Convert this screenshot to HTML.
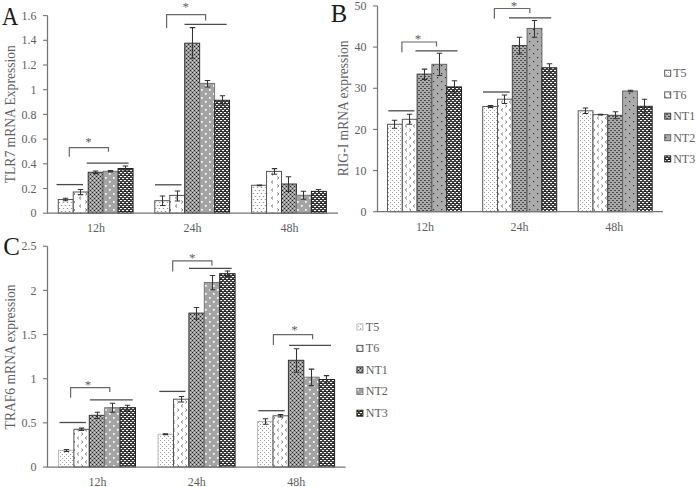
<!DOCTYPE html>
<html><head><meta charset="utf-8"><title>Figure</title>
<style>
html,body{margin:0;padding:0;background:#fff;}
body{width:697px;height:487px;overflow:hidden;}
svg{display:block;font-family:"Liberation Serif",serif;}
</style></head><body>
<svg width="697" height="487" viewBox="0 0 697 487">
<defs>
<pattern id="t5a" width="4" height="6" patternUnits="userSpaceOnUse"><rect width="4" height="6" fill="#fff"/><rect x="0.8" y="1" width="1.4" height="0.9" fill="#8c8c8c"/><rect x="2.8" y="4" width="1.4" height="0.9" fill="#8c8c8c"/><rect x="-1.2" y="4" width="1.4" height="0.9" fill="#8c8c8c"/></pattern>
<pattern id="t5aL" width="4" height="6" patternUnits="userSpaceOnUse"><rect width="4" height="6" fill="#fff"/><rect x="0.8" y="1" width="1.4" height="0.9" fill="#8c8c8c"/><rect x="2.8" y="4" width="1.4" height="0.9" fill="#8c8c8c"/><rect x="-1.2" y="4" width="1.4" height="0.9" fill="#8c8c8c"/></pattern>
<pattern id="t5b" width="4" height="4" patternUnits="userSpaceOnUse"><rect width="4" height="4" fill="#fff"/><rect x="0" y="0" width="1" height="1" fill="#a0a0a0"/><rect x="2" y="2" width="1" height="1" fill="#a0a0a0"/></pattern>
<pattern id="t5bL" width="4" height="4" patternUnits="userSpaceOnUse"><rect width="4" height="4" fill="#fff"/><rect x="0" y="0" width="1" height="1" fill="#a0a0a0"/><rect x="2" y="2" width="1" height="1" fill="#a0a0a0"/></pattern>
<pattern id="t6" width="12" height="8" patternUnits="userSpaceOnUse"><rect width="12" height="8" fill="#fff"/><path d="M1.3 0.6L2.9 2L1.3 3.4" stroke="#505050" stroke-width="0.85" fill="none"/><path d="M9 4.6L7.4 6L9 7.4" stroke="#505050" stroke-width="0.85" fill="none"/></pattern>
<pattern id="t6L" width="12" height="8" patternUnits="userSpaceOnUse"><rect width="12" height="8" fill="#fff"/><path d="M1.3 0.6L2.9 2L1.3 3.4" stroke="#505050" stroke-width="0.85" fill="none"/><path d="M9 4.6L7.4 6L9 7.4" stroke="#505050" stroke-width="0.85" fill="none"/></pattern>
<pattern id="t6c" width="8" height="8" patternUnits="userSpaceOnUse"><rect width="8" height="8" fill="#fff"/><path d="M1.3 0.6L2.9 2L1.3 3.4" stroke="#5a5a5a" stroke-width="0.85" fill="none"/><path d="M6.9 4.6L5.3 6L6.9 7.4" stroke="#5a5a5a" stroke-width="0.85" fill="none"/></pattern>
<pattern id="t6cL" width="8" height="8" patternUnits="userSpaceOnUse"><rect width="8" height="8" fill="#fff"/><path d="M1.3 0.6L2.9 2L1.3 3.4" stroke="#5a5a5a" stroke-width="0.85" fill="none"/><path d="M6.9 4.6L5.3 6L6.9 7.4" stroke="#5a5a5a" stroke-width="0.85" fill="none"/></pattern>
<pattern id="nt1a" width="4" height="4" patternUnits="userSpaceOnUse"><rect width="4" height="4" fill="#a2a2a2"/><rect x="0" y="0" width="1" height="1" fill="#1e1e1e"/><rect x="2" y="2" width="1" height="1" fill="#1e1e1e"/><rect x="2" y="0" width="1" height="1" fill="#cfcfcf"/><rect x="0" y="2" width="1" height="1" fill="#cfcfcf"/><rect x="1" y="1" width="1" height="1" fill="#858585"/><rect x="3" y="1" width="1" height="1" fill="#858585"/><rect x="1" y="3" width="1" height="1" fill="#858585"/><rect x="3" y="3" width="1" height="1" fill="#858585"/></pattern>
<pattern id="nt1aL" width="4" height="4" patternUnits="userSpaceOnUse"><rect width="4" height="4" fill="#a2a2a2"/><rect x="0" y="0" width="1" height="1" fill="#1e1e1e"/><rect x="2" y="2" width="1" height="1" fill="#1e1e1e"/><rect x="2" y="0" width="1" height="1" fill="#cfcfcf"/><rect x="0" y="2" width="1" height="1" fill="#cfcfcf"/><rect x="1" y="1" width="1" height="1" fill="#858585"/><rect x="3" y="1" width="1" height="1" fill="#858585"/><rect x="1" y="3" width="1" height="1" fill="#858585"/><rect x="3" y="3" width="1" height="1" fill="#858585"/></pattern>
<pattern id="nt1b" width="4" height="4" patternUnits="userSpaceOnUse"><rect width="4" height="4" fill="#aaaaaa"/><rect x="0" y="0" width="2" height="1" fill="#4a4a4a"/><rect x="2" y="2" width="2" height="1" fill="#4a4a4a"/></pattern>
<pattern id="nt1bL" width="4" height="4" patternUnits="userSpaceOnUse"><rect width="4" height="4" fill="#aaaaaa"/><rect x="0" y="0" width="2" height="1" fill="#4a4a4a"/><rect x="2" y="2" width="2" height="1" fill="#4a4a4a"/></pattern>
<pattern id="nt2a" width="8" height="8" patternUnits="userSpaceOnUse"><rect width="8" height="8" fill="#a4a4a4"/><rect x="1" y="1" width="1.7" height="1.7" fill="#fff"/><rect x="5" y="5" width="1.7" height="1.7" fill="#fff"/></pattern>
<pattern id="nt2aL" width="8" height="8" patternUnits="userSpaceOnUse"><rect width="8" height="8" fill="#a4a4a4"/><rect x="1" y="1" width="1.7" height="1.7" fill="#fff"/><rect x="5" y="5" width="1.7" height="1.7" fill="#fff"/></pattern>
<pattern id="nt2b" width="8" height="8" patternUnits="userSpaceOnUse"><rect width="8" height="8" fill="#ababab"/><rect x="1" y="1" width="1.2" height="1.2" fill="#333"/><rect x="5" y="5" width="1.2" height="1.2" fill="#333"/></pattern>
<pattern id="nt2bL" width="8" height="8" patternUnits="userSpaceOnUse"><rect width="8" height="8" fill="#ababab"/><rect x="1" y="1" width="1.2" height="1.2" fill="#333"/><rect x="5" y="5" width="1.2" height="1.2" fill="#333"/></pattern>
<pattern id="nt3" width="4" height="4" patternUnits="userSpaceOnUse"><rect width="4" height="4" fill="#1c1c1c"/><ellipse cx="1" cy="0.5" rx="1.3" ry="0.82" fill="#fff"/><ellipse cx="3" cy="2.5" rx="1.3" ry="0.82" fill="#fff"/><ellipse cx="-1" cy="2.5" rx="1.3" ry="0.82" fill="#fff"/><ellipse cx="5" cy="0.5" rx="1.3" ry="0.82" fill="#fff"/></pattern>
<pattern id="nt3L" width="4" height="4" patternUnits="userSpaceOnUse"><rect width="4" height="4" fill="#1c1c1c"/><ellipse cx="1" cy="0.5" rx="1.3" ry="0.82" fill="#fff"/><ellipse cx="3" cy="2.5" rx="1.3" ry="0.82" fill="#fff"/><ellipse cx="-1" cy="2.5" rx="1.3" ry="0.82" fill="#fff"/><ellipse cx="5" cy="0.5" rx="1.3" ry="0.82" fill="#fff"/></pattern>
</defs>
<rect width="697" height="487" fill="#fff"/>
<text transform="translate(1.9 24.7) scale(0.98 1.08)" font-size="23" fill="#1a1a1a">A</text>
<text transform="translate(15 114.2) rotate(-90)" font-size="13.6" text-anchor="middle" fill="#5e5e5e">TLR7 mRNA Expression</text>
<rect x="58.30" y="199.50" width="14.95" height="13.70" fill="url(#t5a)" stroke="#555" stroke-width="1"/>
<rect x="73.25" y="192.00" width="14.95" height="21.20" fill="url(#t6)" stroke="#555" stroke-width="1"/>
<rect x="88.20" y="172.30" width="14.95" height="40.90" fill="url(#nt1a)" stroke="#333" stroke-width="1"/>
<rect x="103.15" y="171.30" width="14.95" height="41.90" fill="url(#nt2a)" stroke="#777" stroke-width="1"/>
<rect x="118.10" y="168.50" width="14.95" height="44.70" fill="url(#nt3)" stroke="#222" stroke-width="1"/>
<path d="M65.50 198.30V200.70M62.80 198.30H68.20M62.80 200.70H68.20" stroke="#333" stroke-width="1.05" fill="none"/>
<path d="M80.50 189.40V194.60M77.80 189.40H83.20M77.80 194.60H83.20" stroke="#333" stroke-width="1.05" fill="none"/>
<path d="M95.50 171.00V173.60M92.80 171.00H98.20M92.80 173.60H98.20" stroke="#333" stroke-width="1.05" fill="none"/>
<path d="M110.50 170.60V172.00M107.80 170.60H113.20M107.80 172.00H113.20" stroke="#333" stroke-width="1.05" fill="none"/>
<path d="M125.50 166.00V171.00M122.80 166.00H128.20M122.80 171.00H128.20" stroke="#333" stroke-width="1.05" fill="none"/>
<rect x="154.80" y="200.70" width="14.95" height="12.50" fill="url(#t5a)" stroke="#555" stroke-width="1"/>
<rect x="169.75" y="195.40" width="14.95" height="17.80" fill="url(#t6)" stroke="#555" stroke-width="1"/>
<rect x="184.70" y="43.20" width="14.95" height="170.00" fill="url(#nt1a)" stroke="#333" stroke-width="1"/>
<rect x="199.65" y="83.40" width="14.95" height="129.80" fill="url(#nt2a)" stroke="#777" stroke-width="1"/>
<rect x="214.60" y="100.30" width="14.95" height="112.90" fill="url(#nt3)" stroke="#222" stroke-width="1"/>
<path d="M162.50 195.90V205.40M159.80 195.90H165.20M159.80 205.40H165.20" stroke="#333" stroke-width="1.05" fill="none"/>
<path d="M177.50 190.90V200.90M174.80 190.90H180.20M174.80 200.90H180.20" stroke="#333" stroke-width="1.05" fill="none"/>
<path d="M192.50 27.60V58.30M189.80 27.60H195.20M189.80 58.30H195.20" stroke="#333" stroke-width="1.05" fill="none"/>
<path d="M207.50 80.40V87.00M204.80 80.40H210.20M204.80 87.00H210.20" stroke="#333" stroke-width="1.05" fill="none"/>
<path d="M222.50 95.70V105.00M219.80 95.70H225.20M219.80 105.00H225.20" stroke="#333" stroke-width="1.05" fill="none"/>
<rect x="251.60" y="185.30" width="14.95" height="27.90" fill="url(#t5a)" stroke="#555" stroke-width="1"/>
<rect x="266.55" y="171.40" width="14.95" height="41.80" fill="url(#t6)" stroke="#555" stroke-width="1"/>
<rect x="281.50" y="184.00" width="14.95" height="29.20" fill="url(#nt1a)" stroke="#333" stroke-width="1"/>
<rect x="296.45" y="195.30" width="14.95" height="17.90" fill="url(#nt2a)" stroke="#777" stroke-width="1"/>
<rect x="311.40" y="191.40" width="14.95" height="21.80" fill="url(#nt3)" stroke="#222" stroke-width="1"/>
<path d="M259.50 184.90V185.70M256.80 184.90H262.20M256.80 185.70H262.20" stroke="#333" stroke-width="1.05" fill="none"/>
<path d="M274.50 168.60V174.20M271.80 168.60H277.20M271.80 174.20H277.20" stroke="#333" stroke-width="1.05" fill="none"/>
<path d="M288.50 176.70V191.40M285.80 176.70H291.20M285.80 191.40H291.20" stroke="#333" stroke-width="1.05" fill="none"/>
<path d="M303.50 191.20V199.30M300.80 191.20H306.20M300.80 199.30H306.20" stroke="#333" stroke-width="1.05" fill="none"/>
<path d="M318.50 189.50V193.40M315.80 189.50H321.20M315.80 193.40H321.20" stroke="#333" stroke-width="1.05" fill="none"/>
<path d="M47.5 15.6V213.2H338" stroke="#757575" stroke-width="1.25" fill="none"/>
<path d="M43.0 213.20H47.5" stroke="#757575" stroke-width="1.1"/>
<text x="36.5" y="217.30" font-size="12" text-anchor="end" fill="#5e5e5e">0</text>
<path d="M43.0 188.50H47.5" stroke="#757575" stroke-width="1.1"/>
<text x="36.5" y="192.60" font-size="12" text-anchor="end" fill="#5e5e5e">0.2</text>
<path d="M43.0 163.80H47.5" stroke="#757575" stroke-width="1.1"/>
<text x="36.5" y="167.90" font-size="12" text-anchor="end" fill="#5e5e5e">0.4</text>
<path d="M43.0 139.10H47.5" stroke="#757575" stroke-width="1.1"/>
<text x="36.5" y="143.20" font-size="12" text-anchor="end" fill="#5e5e5e">0.6</text>
<path d="M43.0 114.40H47.5" stroke="#757575" stroke-width="1.1"/>
<text x="36.5" y="118.50" font-size="12" text-anchor="end" fill="#5e5e5e">0.8</text>
<path d="M43.0 89.70H47.5" stroke="#757575" stroke-width="1.1"/>
<text x="36.5" y="93.80" font-size="12" text-anchor="end" fill="#5e5e5e">1</text>
<path d="M43.0 65.00H47.5" stroke="#757575" stroke-width="1.1"/>
<text x="36.5" y="69.10" font-size="12" text-anchor="end" fill="#5e5e5e">1.2</text>
<path d="M43.0 40.30H47.5" stroke="#757575" stroke-width="1.1"/>
<text x="36.5" y="44.40" font-size="12" text-anchor="end" fill="#5e5e5e">1.4</text>
<path d="M43.0 15.60H47.5" stroke="#757575" stroke-width="1.1"/>
<text x="36.5" y="19.70" font-size="12" text-anchor="end" fill="#5e5e5e">1.6</text>
<text x="96" y="232" font-size="12" text-anchor="middle" fill="#5e5e5e">12h</text>
<text x="192.5" y="232" font-size="12" text-anchor="middle" fill="#5e5e5e">24h</text>
<text x="289.5" y="232" font-size="12" text-anchor="middle" fill="#5e5e5e">48h</text>
<path d="M56.5 184.6H83" stroke="#4a4a4a" stroke-width="1.3"/>
<path d="M86.7 163.2H128.6" stroke="#4a4a4a" stroke-width="1.3"/>
<path d="M69.3 156.7V147.6H108.5V151.7" stroke="#686868" stroke-width="1.2" fill="none"/>
<text x="88.4" y="145.6" font-size="13" text-anchor="middle" fill="#5e5e5e">*</text>
<path d="M155 184.8H181.5" stroke="#4a4a4a" stroke-width="1.3"/>
<path d="M184.5 24.4H226.7" stroke="#4a4a4a" stroke-width="1.3"/>
<path d="M166.6 28.1V14.6H205.6V20.6" stroke="#686868" stroke-width="1.2" fill="none"/>
<text x="185.7" y="11.1" font-size="13" text-anchor="middle" fill="#5e5e5e">*</text>
<text x="330.8" y="22.1" font-size="24.7" fill="#1a1a1a">B</text>
<text transform="translate(347.5 108.3) rotate(-90)" font-size="13.6" text-anchor="middle" fill="#5e5e5e">RIG-I mRNA expression</text>
<rect x="387.50" y="124.30" width="14.80" height="87.40" fill="url(#t5b)" stroke="#5a5a5a" stroke-width="1"/>
<rect x="402.30" y="119.30" width="14.80" height="92.40" fill="url(#t6c)" stroke="#5a5a5a" stroke-width="1"/>
<rect x="417.10" y="74.10" width="14.80" height="137.60" fill="url(#nt1b)" stroke="#444" stroke-width="1"/>
<rect x="431.90" y="64.30" width="14.80" height="147.40" fill="url(#nt2b)" stroke="#666" stroke-width="1"/>
<rect x="446.70" y="86.90" width="14.80" height="124.80" fill="url(#nt3)" stroke="#222" stroke-width="1"/>
<path d="M394.50 120.30V128.30M391.80 120.30H397.20M391.80 128.30H397.20" stroke="#333" stroke-width="1.05" fill="none"/>
<path d="M409.50 114.30V124.30M406.80 114.30H412.20M406.80 124.30H412.20" stroke="#333" stroke-width="1.05" fill="none"/>
<path d="M424.50 69.10V79.40M421.80 69.10H427.20M421.80 79.40H427.20" stroke="#333" stroke-width="1.05" fill="none"/>
<path d="M439.50 53.30V75.40M436.80 53.30H442.20M436.80 75.40H442.20" stroke="#333" stroke-width="1.05" fill="none"/>
<path d="M454.50 80.70V93.00M451.80 80.70H457.20M451.80 93.00H457.20" stroke="#333" stroke-width="1.05" fill="none"/>
<rect x="482.70" y="106.50" width="14.80" height="105.20" fill="url(#t5b)" stroke="#5a5a5a" stroke-width="1"/>
<rect x="497.50" y="99.20" width="14.80" height="112.50" fill="url(#t6c)" stroke="#5a5a5a" stroke-width="1"/>
<rect x="512.30" y="45.50" width="14.80" height="166.20" fill="url(#nt1b)" stroke="#444" stroke-width="1"/>
<rect x="527.10" y="28.40" width="14.80" height="183.30" fill="url(#nt2b)" stroke="#666" stroke-width="1"/>
<rect x="541.90" y="67.80" width="14.80" height="143.90" fill="url(#nt3)" stroke="#222" stroke-width="1"/>
<path d="M490.50 105.60V107.40M487.80 105.60H493.20M487.80 107.40H493.20" stroke="#333" stroke-width="1.05" fill="none"/>
<path d="M504.50 95.00V103.50M501.80 95.00H507.20M501.80 103.50H507.20" stroke="#333" stroke-width="1.05" fill="none"/>
<path d="M519.50 37.20V54.00M516.80 37.20H522.20M516.80 54.00H522.20" stroke="#333" stroke-width="1.05" fill="none"/>
<path d="M534.50 20.40V37.20M531.80 20.40H537.20M531.80 37.20H537.20" stroke="#333" stroke-width="1.05" fill="none"/>
<path d="M549.50 63.80V71.90M546.80 63.80H552.20M546.80 71.90H552.20" stroke="#333" stroke-width="1.05" fill="none"/>
<rect x="578.20" y="110.80" width="14.80" height="100.90" fill="url(#t5b)" stroke="#5a5a5a" stroke-width="1"/>
<rect x="593.00" y="114.60" width="14.80" height="97.10" fill="url(#t6c)" stroke="#5a5a5a" stroke-width="1"/>
<rect x="607.80" y="115.30" width="14.80" height="96.40" fill="url(#nt1b)" stroke="#444" stroke-width="1"/>
<rect x="622.60" y="91.00" width="14.80" height="120.70" fill="url(#nt2b)" stroke="#666" stroke-width="1"/>
<rect x="637.40" y="106.30" width="14.80" height="105.40" fill="url(#nt3)" stroke="#222" stroke-width="1"/>
<path d="M585.50 108.00V113.40M582.80 108.00H588.20M582.80 113.40H588.20" stroke="#333" stroke-width="1.05" fill="none"/>
<path d="M600.50 114.20V115.00M597.80 114.20H603.20M597.80 115.00H603.20" stroke="#333" stroke-width="1.05" fill="none"/>
<path d="M615.50 111.80V118.80M612.80 111.80H618.20M612.80 118.80H618.20" stroke="#333" stroke-width="1.05" fill="none"/>
<path d="M630.50 90.20V91.80M627.80 90.20H633.20M627.80 91.80H633.20" stroke="#333" stroke-width="1.05" fill="none"/>
<path d="M644.50 99.30V113.00M641.80 99.30H647.20M641.80 113.00H647.20" stroke="#333" stroke-width="1.05" fill="none"/>
<path d="M377.5 6V211.7H663" stroke="#757575" stroke-width="1.25" fill="none"/>
<path d="M373.0 211.70H377.5" stroke="#757575" stroke-width="1.1"/>
<text x="366.5" y="215.80" font-size="12" text-anchor="end" fill="#5e5e5e">0</text>
<path d="M373.0 170.55H377.5" stroke="#757575" stroke-width="1.1"/>
<text x="366.5" y="174.65" font-size="12" text-anchor="end" fill="#5e5e5e">10</text>
<path d="M373.0 129.40H377.5" stroke="#757575" stroke-width="1.1"/>
<text x="366.5" y="133.50" font-size="12" text-anchor="end" fill="#5e5e5e">20</text>
<path d="M373.0 88.25H377.5" stroke="#757575" stroke-width="1.1"/>
<text x="366.5" y="92.35" font-size="12" text-anchor="end" fill="#5e5e5e">30</text>
<path d="M373.0 47.10H377.5" stroke="#757575" stroke-width="1.1"/>
<text x="366.5" y="51.20" font-size="12" text-anchor="end" fill="#5e5e5e">40</text>
<path d="M373.0 5.95H377.5" stroke="#757575" stroke-width="1.1"/>
<text x="366.5" y="10.05" font-size="12" text-anchor="end" fill="#5e5e5e">50</text>
<text x="425" y="230.5" font-size="12" text-anchor="middle" fill="#5e5e5e">12h</text>
<text x="519.5" y="230.5" font-size="12" text-anchor="middle" fill="#5e5e5e">24h</text>
<text x="614.2" y="230.5" font-size="12" text-anchor="middle" fill="#5e5e5e">48h</text>
<path d="M388.3 110.8H414.4" stroke="#4a4a4a" stroke-width="1.3"/>
<path d="M415.4 50.8H457.6" stroke="#4a4a4a" stroke-width="1.3"/>
<path d="M401.9 52.3V42H436.5V46.5" stroke="#686868" stroke-width="1.2" fill="none"/>
<text x="418" y="43.300000000000004" font-size="13" text-anchor="middle" fill="#5e5e5e">*</text>
<path d="M483 92H509.7" stroke="#4a4a4a" stroke-width="1.3"/>
<path d="M509 17.8H551.2" stroke="#4a4a4a" stroke-width="1.3"/>
<path d="M494.4 18.8V8.5H529.8V13" stroke="#686868" stroke-width="1.2" fill="none"/>
<text x="514" y="10.1" font-size="13" text-anchor="middle" fill="#5e5e5e">*</text>
<rect x="664.7" y="70.20" width="6" height="6" fill="url(#t5bL)" stroke="#5a5a5a" stroke-width="1"/>
<text x="673.1999999999999" y="77.00" font-size="12" fill="#5e5e5e">T5</text>
<rect x="664.7" y="91.90" width="6" height="6" fill="url(#t6cL)" stroke="#5a5a5a" stroke-width="1"/>
<text x="673.1999999999999" y="98.70" font-size="12" fill="#5e5e5e">T6</text>
<rect x="664.7" y="113.20" width="6" height="6" fill="url(#nt1bL)" stroke="#444" stroke-width="1"/>
<text x="673.1999999999999" y="120.00" font-size="12" fill="#5e5e5e">NT1</text>
<rect x="664.7" y="134.70" width="6" height="6" fill="url(#nt2bL)" stroke="#666" stroke-width="1"/>
<text x="673.1999999999999" y="141.50" font-size="12" fill="#5e5e5e">NT2</text>
<rect x="664.7" y="155.90" width="6" height="6" fill="url(#nt3L)" stroke="#222" stroke-width="1"/>
<text x="673.1999999999999" y="162.70" font-size="12" fill="#5e5e5e">NT3</text>
<text x="3.3" y="254.5" font-size="24.9" fill="#1a1a1a">C</text>
<text transform="translate(15.2 356.9) rotate(-90)" font-size="13.6" text-anchor="middle" fill="#5e5e5e">TRAF6 mRNA expression</text>
<rect x="58.50" y="450.40" width="15.40" height="16.60" fill="url(#t5b)" stroke="#bbb" stroke-width="1"/>
<rect x="73.90" y="429.30" width="15.40" height="37.70" fill="url(#t6c)" stroke="#555" stroke-width="1"/>
<rect x="89.30" y="415.30" width="15.40" height="51.70" fill="url(#nt1a)" stroke="#333" stroke-width="1"/>
<rect x="104.70" y="407.70" width="15.40" height="59.30" fill="url(#nt2a)" stroke="#777" stroke-width="1"/>
<rect x="120.10" y="407.70" width="15.40" height="59.30" fill="url(#nt3)" stroke="#222" stroke-width="1"/>
<path d="M66.50 449.40V451.40M63.80 449.40H69.20M63.80 451.40H69.20" stroke="#333" stroke-width="1.05" fill="none"/>
<path d="M81.50 428.10V430.50M78.80 428.10H84.20M78.80 430.50H84.20" stroke="#333" stroke-width="1.05" fill="none"/>
<path d="M97.50 412.20V418.40M94.80 412.20H100.20M94.80 418.40H100.20" stroke="#333" stroke-width="1.05" fill="none"/>
<path d="M112.50 403.20V412.20M109.80 403.20H115.20M109.80 412.20H115.20" stroke="#333" stroke-width="1.05" fill="none"/>
<path d="M127.50 405.20V410.20M124.80 405.20H130.20M124.80 410.20H130.20" stroke="#333" stroke-width="1.05" fill="none"/>
<rect x="158.10" y="434.30" width="15.40" height="32.70" fill="url(#t5b)" stroke="#bbb" stroke-width="1"/>
<rect x="173.50" y="399.20" width="15.40" height="67.80" fill="url(#t6c)" stroke="#555" stroke-width="1"/>
<rect x="188.90" y="313.10" width="15.40" height="153.90" fill="url(#nt1a)" stroke="#333" stroke-width="1"/>
<rect x="204.30" y="282.50" width="15.40" height="184.50" fill="url(#nt2a)" stroke="#777" stroke-width="1"/>
<rect x="219.70" y="273.70" width="15.40" height="193.30" fill="url(#nt3)" stroke="#222" stroke-width="1"/>
<path d="M165.50 433.80V434.80M162.80 433.80H168.20M162.80 434.80H168.20" stroke="#333" stroke-width="1.05" fill="none"/>
<path d="M181.50 396.40V401.90M178.80 396.40H184.20M178.80 401.90H184.20" stroke="#333" stroke-width="1.05" fill="none"/>
<path d="M196.50 307.40V319.20M193.80 307.40H199.20M193.80 319.20H199.20" stroke="#333" stroke-width="1.05" fill="none"/>
<path d="M212.50 275.50V289.80M209.80 275.50H215.20M209.80 289.80H215.20" stroke="#333" stroke-width="1.05" fill="none"/>
<path d="M227.50 270.90V276.50M224.80 270.90H230.20M224.80 276.50H230.20" stroke="#333" stroke-width="1.05" fill="none"/>
<rect x="257.60" y="421.50" width="15.40" height="45.50" fill="url(#t5b)" stroke="#bbb" stroke-width="1"/>
<rect x="273.00" y="415.80" width="15.40" height="51.20" fill="url(#t6c)" stroke="#555" stroke-width="1"/>
<rect x="288.40" y="360.30" width="15.40" height="106.70" fill="url(#nt1a)" stroke="#333" stroke-width="1"/>
<rect x="303.80" y="377.20" width="15.40" height="89.80" fill="url(#nt2a)" stroke="#777" stroke-width="1"/>
<rect x="319.20" y="379.50" width="15.40" height="87.50" fill="url(#nt3)" stroke="#222" stroke-width="1"/>
<path d="M265.50 418.80V424.30M262.80 418.80H268.20M262.80 424.30H268.20" stroke="#333" stroke-width="1.05" fill="none"/>
<path d="M280.50 414.60V417.00M277.80 414.60H283.20M277.80 417.00H283.20" stroke="#333" stroke-width="1.05" fill="none"/>
<path d="M296.50 348.80V372.20M293.80 348.80H299.20M293.80 372.20H299.20" stroke="#333" stroke-width="1.05" fill="none"/>
<path d="M311.50 369.10V385.60M308.80 369.10H314.20M308.80 385.60H314.20" stroke="#333" stroke-width="1.05" fill="none"/>
<path d="M326.50 375.60V383.30M323.80 375.60H329.20M323.80 383.30H329.20" stroke="#333" stroke-width="1.05" fill="none"/>
<path d="M47.5 246.3V467H345.6" stroke="#757575" stroke-width="1.25" fill="none"/>
<path d="M43.0 467.00H47.5" stroke="#757575" stroke-width="1.1"/>
<text x="36.5" y="471.10" font-size="12" text-anchor="end" fill="#5e5e5e">0</text>
<path d="M43.0 422.85H47.5" stroke="#757575" stroke-width="1.1"/>
<text x="36.5" y="426.95" font-size="12" text-anchor="end" fill="#5e5e5e">0.5</text>
<path d="M43.0 378.70H47.5" stroke="#757575" stroke-width="1.1"/>
<text x="36.5" y="382.80" font-size="12" text-anchor="end" fill="#5e5e5e">1</text>
<path d="M43.0 334.55H47.5" stroke="#757575" stroke-width="1.1"/>
<text x="36.5" y="338.65" font-size="12" text-anchor="end" fill="#5e5e5e">1.5</text>
<path d="M43.0 290.40H47.5" stroke="#757575" stroke-width="1.1"/>
<text x="36.5" y="294.50" font-size="12" text-anchor="end" fill="#5e5e5e">2</text>
<path d="M43.0 246.25H47.5" stroke="#757575" stroke-width="1.1"/>
<text x="36.5" y="250.35" font-size="12" text-anchor="end" fill="#5e5e5e">2.5</text>
<text x="97.5" y="485.5" font-size="12" text-anchor="middle" fill="#5e5e5e">12h</text>
<text x="196.8" y="485.5" font-size="12" text-anchor="middle" fill="#5e5e5e">24h</text>
<text x="296.3" y="485.5" font-size="12" text-anchor="middle" fill="#5e5e5e">48h</text>
<path d="M59.5 422.5H85.9" stroke="#4a4a4a" stroke-width="1.3"/>
<path d="M89.9 399.9H132.7" stroke="#4a4a4a" stroke-width="1.3"/>
<path d="M70.6 397.7V387.6H109.8V392.1" stroke="#686868" stroke-width="1.2" fill="none"/>
<text x="88" y="388.6" font-size="13" text-anchor="middle" fill="#5e5e5e">*</text>
<path d="M159.3 391.4H185.5" stroke="#4a4a4a" stroke-width="1.3"/>
<path d="M189 268.3H231.7" stroke="#4a4a4a" stroke-width="1.3"/>
<path d="M172.7 271.4V260.9H211.9V265.7" stroke="#686868" stroke-width="1.2" fill="none"/>
<text x="192.3" y="262.0" font-size="13" text-anchor="middle" fill="#5e5e5e">*</text>
<path d="M258.3 410.7H284.7" stroke="#4a4a4a" stroke-width="1.3"/>
<path d="M289.1 345.3H331" stroke="#4a4a4a" stroke-width="1.3"/>
<path d="M273.4 345V334.7H312.6V339.3" stroke="#686868" stroke-width="1.2" fill="none"/>
<text x="294.5" y="334.1" font-size="13" text-anchor="middle" fill="#5e5e5e">*</text>
<rect x="356.9" y="323.90" width="6" height="6" fill="url(#t5bL)" stroke="#bbb" stroke-width="1"/>
<text x="365.79999999999995" y="330.70" font-size="12" fill="#5e5e5e">T5</text>
<rect x="356.9" y="345.40" width="6" height="6" fill="url(#t6cL)" stroke="#555" stroke-width="1"/>
<text x="365.79999999999995" y="352.20" font-size="12" fill="#5e5e5e">T6</text>
<rect x="356.9" y="366.90" width="6" height="6" fill="url(#nt1aL)" stroke="#333" stroke-width="1"/>
<text x="365.79999999999995" y="373.70" font-size="12" fill="#5e5e5e">NT1</text>
<rect x="356.9" y="388.40" width="6" height="6" fill="url(#nt2aL)" stroke="#777" stroke-width="1"/>
<text x="365.79999999999995" y="395.20" font-size="12" fill="#5e5e5e">NT2</text>
<rect x="356.9" y="410.20" width="6" height="6" fill="url(#nt3L)" stroke="#222" stroke-width="1"/>
<text x="365.79999999999995" y="417.00" font-size="12" fill="#5e5e5e">NT3</text>
</svg>
</body></html>
